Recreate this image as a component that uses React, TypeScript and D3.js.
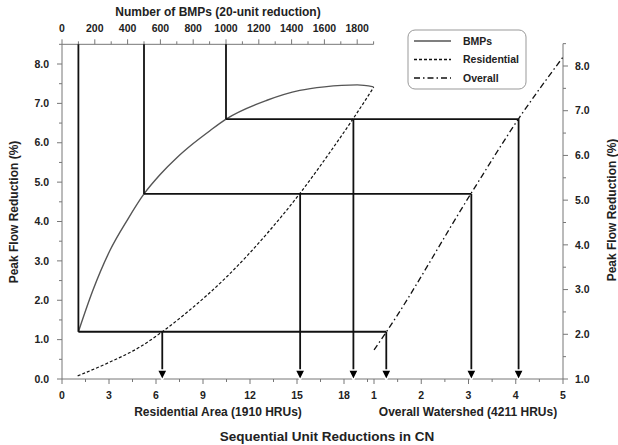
import React from "react";
import * as d3 from "d3";

// ---- data ----
const bmpCount = [100, 189, 293, 400, 500, 600, 700, 800, 900, 1000, 1250, 1450, 1600, 1800, 1900];
const bmpReduction = [1.2, 2.26, 3.27, 4.05, 4.7, 5.2, 5.62, 5.98, 6.3, 6.6, 7.08, 7.33, 7.42, 7.47, 7.42];

const resUnits = [1, 3, 5, 6.4, 8, 10.5, 13.1, 15.2, 17, 18.6, 19.9];
const resReduction = [0.08, 0.42, 0.82, 1.2, 1.7, 2.59, 3.7, 4.72, 5.7, 6.62, 7.41];

const overallUnits = [1.0, 1.26, 3.06, 4.06, 5.0];
const overallReduction = [1.65, 2.05, 5.16, 6.82, 8.2];

// step guides: BMP count -> level -> residential / overall reductions
const stepBmp = [100, 500, 1000];
const stepLevel = [1.2, 4.7, 6.6];
const stepRes = [6.4, 15.2, 18.6];
const stepOverall = [1.26, 3.06, 4.06];

const topTicks = [0, 200, 400, 600, 800, 1000, 1200, 1400, 1600, 1800];
const leftTicks = [0, 1, 2, 3, 4, 5, 6, 7, 8];
const rightTicks = [1, 2, 3, 4, 5, 6, 7, 8];
const resTicks = [0, 3, 6, 9, 12, 15, 18];
const overallTicks = [1, 2, 3, 4, 5];

const legendItems = ["BMPs", "Residential", "Overall"];

export default function App() {
  const W = 618, H = 445;
  const xTop = d3.scaleLinear().domain([0, 1000]).range([62, 226]);
  const xRes = d3.scaleLinear().domain([0, 18]).range([62, 344]);
  const xOv = d3.scaleLinear().domain([1, 5]).range([374, 563]);
  const yL = d3.scaleLinear().domain([0, 8]).range([379, 64]);
  const yR = d3.scaleLinear().domain([1, 8]).range([379, 66]);

  const x0 = 62, x1 = 563, yTop = yL(8.5), yBot = 379, xTopEnd = xTop(1900);

  const bmpLine = d3.line<number>().x((d) => xTop(d)).y((_, i) => yL(bmpReduction[i])).curve(d3.curveMonotoneX);
  const resLine = d3.line<number>().x((d) => xRes(d)).y((_, i) => yL(resReduction[i])).curve(d3.curveMonotoneX);
  const ovLine = d3.line<number>().x((d) => xOv(d)).y((_, i) => yR(overallReduction[i])).curve(d3.curveMonotoneX);

  const font = "'Liberation Sans', Arial, sans-serif";
  const axisCol = "#777";
  const textCol = "#222";
  const lw = 1.8;

  const minor = (a: number, b: number, step: number) => d3.range(a, b + 1e-9, step);

  const arrow = (x: number, key: string) => (
    <path key={key} d={`M${x - 5},${yBot - 9} L${x + 5},${yBot - 9} L${x},${yBot + 1} Z`} fill="#000" stroke="#fff" strokeWidth={1.5} />
  );

  return (
    <svg width={W} height={H} style={{ position: "absolute", left: 0, top: 0, background: "#fff" }} fontFamily={font}>
      {/* axes lines */}
      <g stroke={axisCol} strokeWidth={1} fill="none">
        <line x1={x0} x2={x0} y1={yTop} y2={yBot} />
        <line x1={x0} x2={xTopEnd} y1={yTop} y2={yTop} />
        <line x1={x1} x2={x1} y1={yR(8.5)} y2={yBot} />
        <line x1={x0} x2={x1} y1={yBot} y2={yBot} />
        {minor(0, 8.5, 0.5).map((v) => (
          <line key={"lt" + v} x1={x0} x2={x0 - (Number.isInteger(v) ? 5 : 3)} y1={yL(v)} y2={yL(v)} />
        ))}
        {minor(1, 8.5, 0.5).map((v) => (
          <line key={"rt" + v} x1={x1} x2={x1 + (Number.isInteger(v) ? 5 : 3)} y1={yR(v)} y2={yR(v)} />
        ))}
        {minor(0, 1900, 100).map((v) => (
          <line key={"tt" + v} x1={xTop(v)} x2={xTop(v)} y1={yTop} y2={yTop - (v % 200 === 0 ? 5 : 3)} />
        ))}
        {minor(0, 19.5, 1.5).map((v) => (
          <line key={"bt" + v} x1={xRes(v)} x2={xRes(v)} y1={yBot} y2={yBot + (v % 3 === 0 ? 5 : 3)} />
        ))}
        {minor(1, 5, 0.5).map((v) => (
          <line key={"ot" + v} x1={xOv(v)} x2={xOv(v)} y1={yBot} y2={yBot + (Number.isInteger(v) ? 5 : 3)} />
        ))}
      </g>

      {/* tick labels */}
      <g fontSize={10.5} fontWeight="bold" fill={textCol}>
        {leftTicks.map((v) => (
          <text key={"ll" + v} x={49} y={yL(v)} dy="0.35em" textAnchor="end">{d3.format(".1f")(v)}</text>
        ))}
        {rightTicks.map((v) => (
          <text key={"rl" + v} x={575} y={yR(v)} dy="0.35em" textAnchor="start">{d3.format(".1f")(v)}</text>
        ))}
        {topTicks.map((v) => (
          <text key={"tl" + v} x={xTop(v)} y={32} textAnchor="middle">{v}</text>
        ))}
        {resTicks.map((v) => (
          <text key={"bl" + v} x={xRes(v)} y={399} textAnchor="middle">{v}</text>
        ))}
        {overallTicks.map((v) => (
          <text key={"ol" + v} x={xOv(v)} y={399} textAnchor="middle">{v}</text>
        ))}
      </g>

      {/* axis titles */}
      <g fontWeight="bold" fill={textCol}>
        <text x={218} y={16} fontSize={12} textAnchor="middle">Number of BMPs (20-unit reduction)</text>
        <text x={218} y={416} fontSize={12} textAnchor="middle">Residential Area (1910 HRUs)</text>
        <text x={468} y={416} fontSize={12} textAnchor="middle">Overall Watershed (4211 HRUs)</text>
        <text x={327} y={441} fontSize={13.5} textAnchor="middle">Sequential Unit Reductions in CN</text>
        <text transform={`translate(18,212) rotate(-90)`} fontSize={12} textAnchor="middle">Peak Flow Reduction (%)</text>
        <text transform={`translate(616,210) rotate(-90)`} fontSize={12} textAnchor="middle">Peak Flow Reduction (%)</text>
      </g>

      {/* curves */}
      <path d={bmpLine(bmpCount) || ""} fill="none" stroke="#555" strokeWidth={1.4} />
      <path d={resLine(resUnits) || ""} fill="none" stroke="#111" strokeWidth={1.2} strokeDasharray="3,2" />
      <path d={ovLine(overallUnits) || ""} fill="none" stroke="#111" strokeWidth={1.3} strokeDasharray="6,3,1.5,3" />

      {/* step guides */}
      <g stroke="#111" strokeWidth={lw} fill="none">
        {stepBmp.map((b, i) => (
          <g key={"s" + i}>
            <line x1={xTop(b)} x2={xTop(b)} y1={yTop} y2={yL(stepLevel[i])} />
            <line x1={xTop(b)} x2={xOv(stepOverall[i])} y1={yL(stepLevel[i])} y2={yL(stepLevel[i])} />
            <line x1={xRes(stepRes[i])} x2={xRes(stepRes[i])} y1={yL(stepLevel[i])} y2={yBot - 8} />
            <line x1={xOv(stepOverall[i])} x2={xOv(stepOverall[i])} y1={yL(stepLevel[i])} y2={yBot - 8} />
          </g>
        ))}
      </g>
      {stepRes.map((r, i) => arrow(xRes(r), "ar" + i))}
      {stepOverall.map((o, i) => arrow(xOv(o), "ao" + i))}

      {/* legend */}
      <g>
        <rect x={408} y={30} width={118} height={59} rx={7} fill="#fff" stroke="#999" strokeWidth={1} />
        {legendItems.map((name, i) => (
          <g key={name}>
            <line x1={414} x2={451} y1={41 + i * 18.5} y2={41 + i * 18.5} stroke={i === 0 ? "#555" : "#111"} strokeWidth={1.3}
              strokeDasharray={i === 0 ? undefined : i === 1 ? "3,2" : "6,3,1.5,3"} />
            <text x={463} y={41 + i * 18.5} dy="0.35em" fontSize={10.5} fontWeight="bold" fill={textCol}>{name}</text>
          </g>
        ))}
      </g>
    </svg>
  );
}
